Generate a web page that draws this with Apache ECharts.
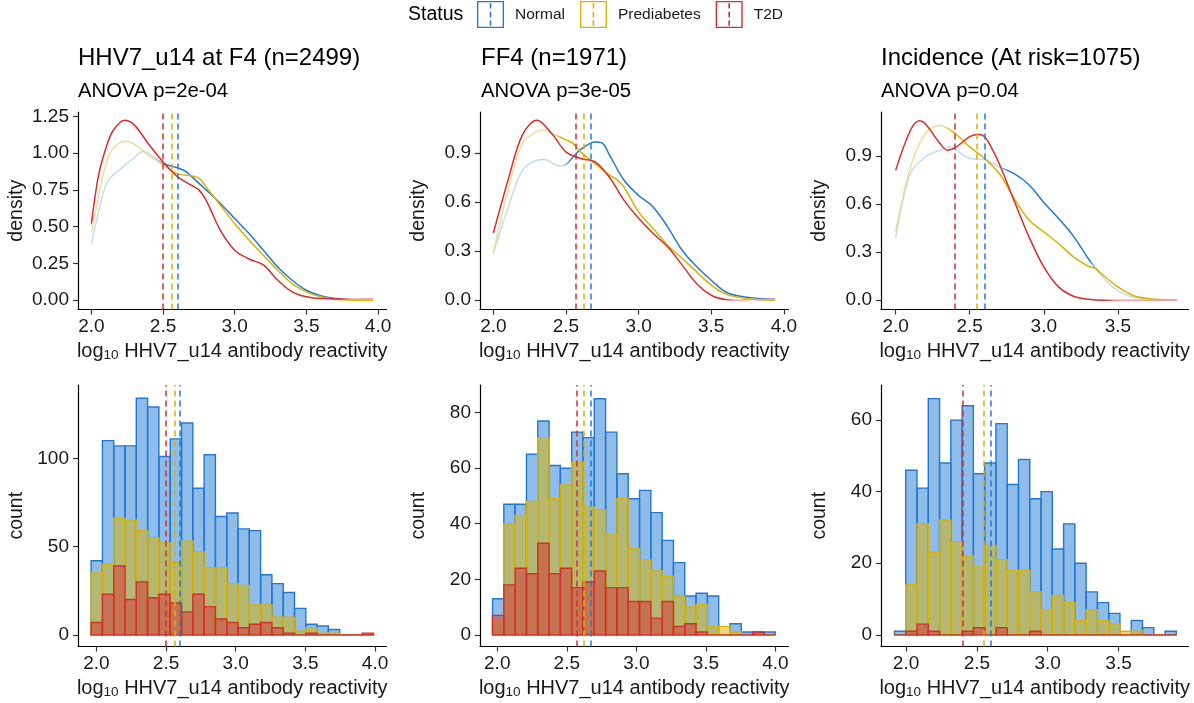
<!DOCTYPE html>
<html>
<head>
<meta charset="utf-8">
<script src="https://cdn.jsdelivr.net/npm/echarts@6/dist/echarts.min.js"></script>
<style>
  html, body { margin: 0; padding: 0; background: #fff; }
  #chart-container { width: 1194px; height: 703px; }
</style>
</head>
<body>
<div id="chart-container"></div>
<script>
var dom = document.getElementById('chart-container');
var myChart = echarts.init(dom, null, { renderer: 'canvas' });

// ---- data ----
var statusNames = ['Normal', 'Prediabetes', 'T2D'];
var panelTitles = ['HHV7_u14 at F4 (n=2499)', 'FF4 (n=1971)', 'Incidence (At risk=1075)'];
var anovaText = ['ANOVA p=2e-04', 'ANOVA p=3e-05', 'ANOVA p=0.04'];

var xTicks = [[2.0, 2.5, 3.0, 3.5, 4.0], [2.0, 2.5, 3.0, 3.5, 4.0], [2.0, 2.5, 3.0, 3.5]];
var densityTicks = [[0, 0.25, 0.5, 0.75, 1.0, 1.25], [0, 0.3, 0.6, 0.9], [0, 0.3, 0.6, 0.9]];
var countTicks = [[0, 50, 100], [0, 20, 40, 60, 80], [0, 20, 40, 60]];

// group means (dashed lines): Normal, Prediabetes, T2D
var meansF4 = [2.600, 2.555, 2.503];
var meansFF4 = [2.672, 2.618, 2.570];
var meansInc = [2.600, 2.550, 2.398];

// histogram bins (25 bins per panel)
var binStart = [1.962, 1.966, 1.918];
var binWidth = [0.0811, 0.0813, 0.0796];

var countF4Normal = [42, 110, 107, 107, 134, 129, 101, 111, 120, 83, 102, 67, 69, 60, 59, 34, 29, 24, 15, 6, 5, 3, 0, 0, 0];
var countF4Pre    = [35, 40, 66, 65, 59, 55, 52, 41, 53, 47, 38, 38, 29, 28, 17, 17, 10, 10, 2, 4, 1, 1, 0, 0, 0];
var countF4T2D    = [7, 23, 39, 20, 30, 21, 23, 18, 13, 23, 16, 9, 7, 4, 6, 7, 4, 1, 0, 1, 0, 0, 0, 0, 1];

var countFF4Normal = [13, 47, 47, 65, 77, 61, 60, 73, 71, 85, 73, 58, 49, 52, 44, 34, 26, 14, 15, 14, 0, 4, 1, 1, 1];
var countFF4Pre    = [5, 40, 43, 48, 71, 49, 54, 62, 46, 45, 36, 49, 31, 27, 23, 21, 14, 10, 11, 3, 3, 1, 0, 0, 0];
var countFF4T2D    = [7, 18, 24, 22, 33, 22, 24, 17, 19, 23, 17, 17, 12, 12, 6, 12, 3, 4, 1, 0, 0, 0, 0, 1, 0];

var countIncNormal = [1, 46, 41, 66, 48, 60, 64, 45, 48, 59, 42, 49, 38, 40, 24, 31, 20, 12, 9, 6, 0, 4, 2, 0, 1];
var countIncPre    = [0, 14, 31, 23, 32, 26, 22, 19, 25, 21, 18, 18, 12, 7, 11, 9, 4, 7, 4, 3, 1, 1, 0, 0, 0];
var countIncT2D    = [0, 1, 3, 1, 0, 0, 1, 2, 0, 2, 0, 0, 1, 0, 0, 0, 0, 0, 0, 0, 0, 0, 0, 0, 0];

// density curves [x, density]
var densF4Normal = [[2.0, 0.385], [2.05, 0.6], [2.1, 0.78], [2.15, 0.85], [2.2, 0.89], [2.3, 0.97], [2.36, 1.01], [2.4, 0.996], [2.5, 0.93], [2.6, 0.90], [2.65, 0.88], [2.7, 0.84], [2.8, 0.75], [2.9, 0.657], [3.0, 0.555], [3.1, 0.453], [3.2, 0.34], [3.3, 0.226], [3.4, 0.136], [3.5, 0.068], [3.6, 0.03], [3.7, 0.011], [3.8, 0.005], [3.965, 0.002]];
var densF4Pre = [[2.0, 0.46], [2.05, 0.7], [2.1, 0.92], [2.15, 1.03], [2.24, 1.08], [2.3, 1.06], [2.4, 0.985], [2.5, 0.92], [2.6, 0.86], [2.7, 0.845], [2.75, 0.83], [2.8, 0.77], [2.9, 0.645], [3.0, 0.52], [3.1, 0.41], [3.2, 0.305], [3.3, 0.204], [3.4, 0.113], [3.5, 0.057], [3.6, 0.023], [3.7, 0.007], [3.8, 0.002], [3.965, 0.0]];
var densF4T2D = [[2.0, 0.52], [2.05, 0.85], [2.1, 1.03], [2.15, 1.15], [2.23, 1.223], [2.3, 1.19], [2.4, 1.06], [2.5, 0.94], [2.6, 0.84], [2.7, 0.78], [2.75, 0.75], [2.8, 0.68], [2.9, 0.475], [3.0, 0.34], [3.1, 0.28], [3.2, 0.24], [3.3, 0.136], [3.4, 0.057], [3.5, 0.023], [3.6, 0.011], [3.7, 0.01], [3.8, 0.008], [3.965, 0.012]];

var densFF4Normal = [[2.0, 0.285], [2.1, 0.56], [2.2, 0.794], [2.3, 0.855], [2.35, 0.86], [2.45, 0.82], [2.5, 0.83], [2.55, 0.876], [2.6, 0.92], [2.7, 0.967], [2.75, 0.96], [2.8, 0.886], [2.9, 0.733], [3.0, 0.64], [3.1, 0.57], [3.2, 0.448], [3.3, 0.305], [3.4, 0.204], [3.5, 0.122], [3.6, 0.05], [3.7, 0.024], [3.8, 0.012], [3.94, 0.006]];
var densFF4Pre = [[2.0, 0.285], [2.1, 0.67], [2.2, 0.96], [2.3, 1.03], [2.35, 1.04], [2.4, 1.02], [2.5, 0.98], [2.55, 0.957], [2.6, 0.906], [2.7, 0.835], [2.8, 0.764], [2.85, 0.737], [2.9, 0.69], [3.0, 0.54], [3.1, 0.438], [3.2, 0.336], [3.3, 0.255], [3.4, 0.173], [3.5, 0.092], [3.6, 0.037], [3.7, 0.016], [3.8, 0.004], [3.94, 0.0]];
var densFF4T2D = [[2.0, 0.41], [2.1, 0.73], [2.2, 1.01], [2.3, 1.10], [2.4, 1.02], [2.5, 0.906], [2.6, 0.866], [2.7, 0.845], [2.8, 0.75], [2.9, 0.61], [3.0, 0.5], [3.1, 0.407], [3.2, 0.326], [3.3, 0.214], [3.4, 0.10], [3.5, 0.03], [3.6, 0.004], [3.7, 0.0], [3.8, 0.004], [3.94, 0.006]];

var densIncNormal = [[2.0, 0.385], [2.1, 0.79], [2.2, 0.894], [2.3, 0.936], [2.37, 0.955], [2.45, 0.91], [2.5, 0.884], [2.6, 0.877], [2.7, 0.83], [2.8, 0.79], [2.9, 0.72], [3.0, 0.61], [3.1, 0.51], [3.2, 0.40], [3.3, 0.26], [3.35, 0.2], [3.4, 0.14], [3.5, 0.06], [3.6, 0.02], [3.7, 0.008], [3.8, 0.003], [3.9, 0.002]];
var densIncPre = [[2.0, 0.43], [2.1, 0.83], [2.2, 1.04], [2.3, 1.09], [2.4, 1.04], [2.5, 0.956], [2.6, 0.884], [2.7, 0.79], [2.8, 0.634], [2.9, 0.5], [3.0, 0.426], [3.1, 0.353], [3.2, 0.27], [3.3, 0.212], [3.35, 0.197], [3.4, 0.156], [3.5, 0.083], [3.6, 0.031], [3.7, 0.01], [3.8, 0.004], [3.9, 0.0]];
var densIncT2D = [[2.0, 0.81], [2.1, 1.06], [2.16, 1.12], [2.2, 1.10], [2.3, 0.977], [2.35, 0.936], [2.4, 0.95], [2.5, 1.02], [2.56, 1.033], [2.6, 1.02], [2.65, 0.946], [2.7, 0.85], [2.8, 0.62], [2.9, 0.395], [3.0, 0.208], [3.1, 0.083], [3.2, 0.025], [3.3, 0.006], [3.4, 0.0], [3.6, 0.0], [3.9, 0.0]];

// ---- styling ----
var fontFamily = '"Liberation Sans", Arial, sans-serif';
var statusColors = ['#2079d2', '#d9b300', '#d42f2f'];
var lightColors = ['#c4dbf2', '#eedd96', '#f2a3a3'];
var fillColors = ['rgba(32,121,210,0.5)', 'rgba(217,179,0,0.5)', 'rgba(212,47,47,0.5)'];

// where a density line is drawn pale (1) or full (0)
var lineTones = [
  [[[2.0, 1], [2.45, 1], [2.53, 0], [3.72, 0], [3.8, 1]], [[2.0, 1], [2.48, 1], [2.55, 0]], [[2.0, 0], [3.72, 0], [3.8, 1]]],
  [[[2.0, 1], [2.48, 1], [2.55, 0]], [[2.0, 1], [2.42, 1], [2.48, 0]], [[2.0, 0], [3.58, 0], [3.65, 1]]],
  [[[2.0, 1], [2.7, 1], [2.76, 0], [3.3, 0], [3.36, 1]], [[2.0, 1], [2.33, 1], [2.4, 0]], [[2.0, 0], [3.4, 0], [3.48, 1]]]
];

var topGrids = [
  { left: 78, top: 112, width: 308.5, height: 197.5 },
  { left: 480, top: 112, width: 308.5, height: 197.5 },
  { left: 881, top: 112, width: 307.5, height: 197.5 }
];
var bottomGrids = [
  { left: 78, top: 385, width: 308.5, height: 261.5 },
  { left: 480, top: 385, width: 308.5, height: 261.5 },
  { left: 881, top: 385, width: 307.5, height: 261.5 }
];
var densXRange = [[1.9065, 4.059], [1.908, 4.032], [1.901, 3.977]];
var densYRange = [[-0.063, 1.279], [-0.057, 1.150], [-0.058, 1.174]];
var histXRange = [[1.868, 4.082], [1.876, 4.094], [1.823, 3.994]];
var histYRange = [[-6.6, 141.5], [-4.2, 89.96], [-3.26, 69.8]];

var hist = [
  [countF4Normal, countF4Pre, countF4T2D],
  [countFF4Normal, countFF4Pre, countFF4T2D],
  [countIncNormal, countIncPre, countIncT2D]
];
var dens = [
  [densF4Normal, densF4Pre, densF4T2D],
  [densFF4Normal, densFF4Pre, densFF4T2D],
  [densIncNormal, densIncPre, densIncT2D]
];
var means = [meansF4, meansFF4, meansInc];

var textColor = '#1a1a1a';
var xName = '{m|log}{s|10}{m| HHV7_u14 antibody reactivity}';

function fixed(d) {
  return function (v) { return v.toFixed(d); };
}

function xAxisFor(g, range, ticks) {
  return {
    type: 'value', gridIndex: g, min: range[0], max: range[1],
    name: xName, nameLocation: 'middle', nameGap: 31,
    nameTextStyle: {
      rich: {
        m: { fontSize: 20, fontFamily: fontFamily, color: textColor, lineHeight: 22 },
        s: { fontSize: 13.5, fontFamily: fontFamily, color: textColor, lineHeight: 14, verticalAlign: 'bottom' }
      }
    },
    axisLine: { show: true, onZero: false, lineStyle: { color: '#000', width: 1.2 } },
    axisTick: { show: true, length: 5, customValues: ticks, lineStyle: { color: '#333', width: 1.2 } },
    axisLabel: { customValues: ticks, formatter: fixed(1), fontSize: 19, color: textColor, fontFamily: fontFamily, margin: 8 },
    splitLine: { show: false }
  };
}

function yAxisFor(g, range, ticks, digits, name) {
  return {
    type: 'value', gridIndex: g, min: range[0], max: range[1],
    name: name, nameLocation: 'middle', nameGap: 51, nameRotate: 90,
    nameTextStyle: { fontSize: 19.5, fontFamily: fontFamily, color: textColor },
    axisLine: { show: true, onZero: false, lineStyle: { color: '#000', width: 1.2 } },
    axisTick: { show: true, length: 5, customValues: ticks, lineStyle: { color: '#333', width: 1.2 } },
    axisLabel: { customValues: ticks, formatter: fixed(digits), fontSize: 19, color: textColor, fontFamily: fontFamily, margin: 9 },
    splitLine: { show: false }
  };
}

function vline(x, s) {
  return {
    silent: true, animation: false, symbol: ['none', 'none'],
    label: { show: false }, emphasis: { disabled: true },
    lineStyle: { color: statusColors[s], type: [6, 4], width: 1.5, opacity: 1 },
    data: [{ xAxis: x }]
  };
}

function makeBar(s) {
  return function (params, api) {
    var topLeft = api.coord([api.value(0), api.value(2)]);
    var bottomRight = api.coord([api.value(1), 0]);
    return {
      type: 'rect',
      shape: { x: topLeft[0], y: topLeft[1], width: bottomRight[0] - topLeft[0], height: bottomRight[1] - topLeft[1] },
      style: { fill: fillColors[s], stroke: statusColors[s], lineWidth: 1.4 }
    };
  };
}

function toneGradient(p, s) {
  var pts = dens[p][s];
  var x0 = pts[0][0], x1 = pts[pts.length - 1][0];
  var stops = lineTones[p][s].map(function (t) {
    return { offset: (t[0] - x0) / (x1 - x0), color: t[1] ? lightColors[s] : statusColors[s] };
  });
  var last = lineTones[p][s][lineTones[p][s].length - 1];
  stops.push({ offset: 1, color: last[1] ? lightColors[s] : statusColors[s] });
  return new echarts.graphic.LinearGradient(0, 0, 1, 0, stops);
}

var grids = topGrids.concat(bottomGrids);
var xAxes = [], yAxes = [], series = [];

for (var p = 0; p < 3; p++) {
  xAxes.push(xAxisFor(p, densXRange[p], xTicks[p]));
  yAxes.push(yAxisFor(p, densYRange[p], densityTicks[p], p === 0 ? 2 : 1, 'density'));
}
for (var p = 0; p < 3; p++) {
  xAxes.push(xAxisFor(3 + p, histXRange[p], xTicks[p]));
  yAxes.push(yAxisFor(3 + p, histYRange[p], countTicks[p], 0, 'count'));
}

// histograms first so the legend takes its icon from them
for (var p = 0; p < 3; p++) {
  for (var s = 0; s < 3; s++) {
    var bars = hist[p][s].map(function (c, k) {
      return [binStart[p] + k * binWidth[p], binStart[p] + (k + 1) * binWidth[p], c];
    });
    series.push({
      type: 'custom', name: statusNames[s],
      xAxisIndex: 3 + p, yAxisIndex: 3 + p,
      data: bars, encode: { x: [0, 1], y: 2 },
      renderItem: makeBar(s),
      itemStyle: { color: statusColors[s] },
      z: 2 + s, animation: false,
      markLine: vline(means[p][s], s)
    });
  }
}
for (var p = 0; p < 3; p++) {
  for (var s = 0; s < 3; s++) {
    series.push({
      type: 'line', name: statusNames[s],
      xAxisIndex: p, yAxisIndex: p,
      data: dens[p][s], symbol: 'none', showSymbol: false, smooth: 0.35,
      lineStyle: { width: 1.5, color: toneGradient(p, s) },
      itemStyle: { color: statusColors[s] },
      z: 2 + s, animation: false,
      markLine: vline(means[p][s], s)
    });
  }
}

var boxIcon = 'path://M0,0H100V100H0Z M5,5V95H95V5Z M47,8H53V28H47Z M47,40H53V60H47Z M47,72H53V92H47Z';

var titles = [];
var titleLeft = [78, 481, 881];
for (var p = 0; p < 3; p++) {
  titles.push({
    left: titleLeft[p], top: 46, padding: 0, itemGap: 11,
    text: panelTitles[p], subtext: anovaText[p],
    textStyle: { fontSize: 24, fontWeight: 'normal', color: '#000', fontFamily: fontFamily },
    subtextStyle: { fontSize: 20.3, color: '#000', fontFamily: fontFamily }
  });
}
titles.push({
  left: 408, top: 5, padding: 0, text: 'Status',
  textStyle: { fontSize: 19.5, fontWeight: 'normal', color: '#000', fontFamily: fontFamily }
});

var option = {
  backgroundColor: '#fff',
  animation: false,
  title: titles,
  legend: {
    left: 477, top: 1, padding: 0,
    itemWidth: 27, itemHeight: 27, itemGap: 15,
    selectedMode: false,
    data: statusNames.map(function (n, i) {
      return { name: n, icon: boxIcon, itemStyle: { color: statusColors[i], borderWidth: 0 } };
    }),
    textStyle: { fontSize: 15.5, color: textColor, fontFamily: fontFamily, padding: [0, 0, 0, 6] }
  },
  grid: grids,
  xAxis: xAxes,
  yAxis: yAxes,
  series: series
};

if (option && typeof option === 'object') {
  myChart.setOption(option);
}

window.addEventListener('resize', myChart.resize);
</script>
</body>
</html>
